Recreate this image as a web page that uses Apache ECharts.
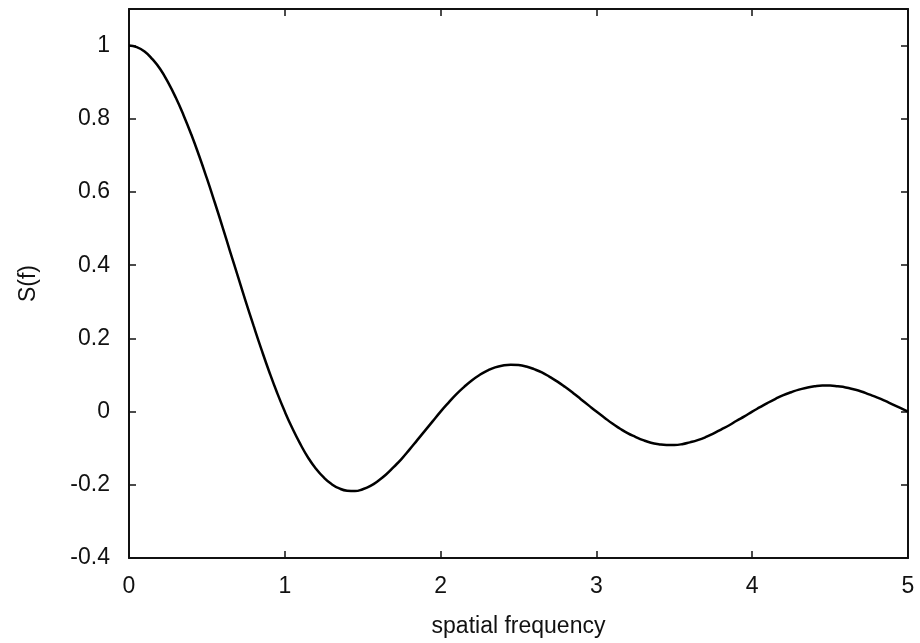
<!DOCTYPE html>
<html lang="en">

<head>
    <meta charset="UTF-8">
    <script src="https://cdn.jsdelivr.net/npm/echarts@6/dist/echarts.min.js"></script>
    <title>S(f)</title>
</head>

<body style="margin:0;background:#fff;">
    <div id="main" style="height: 643px;width: 920px;"></div>

    <script>
        // values, step 0.05
        var freq = [];
        for (var k = 0; k <= 100; k++) freq.push(+(k * 0.05).toFixed(2));
        var sValues = [
            1.0, 0.996, 0.984, 0.963, 0.936, 0.900, 0.858, 0.810, 0.757, 0.699,
            0.637, 0.572, 0.505, 0.436, 0.368, 0.300, 0.234, 0.170, 0.109, 0.052,
            0.0, -0.047, -0.089, -0.126, -0.156, -0.180, -0.198, -0.210, -0.216, -0.217,
            -0.212, -0.203, -0.189, -0.172, -0.151, -0.129, -0.104, -0.078, -0.052, -0.026,
            0.0, 0.024, 0.047, 0.067, 0.085, 0.100, 0.112, 0.121, 0.126, 0.128,
            0.127, 0.123, 0.116, 0.107, 0.095, 0.082, 0.067, 0.051, 0.034, 0.017,
            0.0, -0.016, -0.032, -0.046, -0.059, -0.069, -0.078, -0.085, -0.089, -0.091,
            -0.091, -0.089, -0.084, -0.078, -0.070, -0.060, -0.049, -0.038, -0.025, -0.013,
            0.0, 0.012, 0.024, 0.035, 0.045, 0.053, 0.060, 0.065, 0.069, 0.071,
            0.071, 0.069, 0.066, 0.061, 0.055, 0.047, 0.039, 0.030, 0.020, 0.010, 0.0];

        var font = 'Liberation Sans';
        var chart = echarts.init(document.getElementById('main'));

        var points = freq.map(function (f, i) { return [f, sValues[i]]; });

        var tickStyle = { show: true, inside: true, length: 7, lineStyle: { color: '#111', width: 1.5 } };
        var lineStyle = { onZero: false, lineStyle: { color: '#111', width: 2 } };

        var option = {
            backgroundColor: '#fff',
            animation: false,
            grid: { left: 129, right: 12, top: 9, bottom: 83 },
            xAxis: [
                {
                    type: 'value', min: 0, max: 5, interval: 1,
                    position: 'bottom',
                    name: 'spatial frequency', nameLocation: 'middle', nameGap: 57,
                    nameTextStyle: { fontFamily: font, fontSize: 23, color: '#111' },
                    axisLine: lineStyle,
                    axisTick: tickStyle,
                    axisLabel: { fontFamily: font, fontSize: 23, color: '#111', margin: 17 },
                    splitLine: { show: false }
                },
                {
                    type: 'value', min: 0, max: 5, interval: 1,
                    position: 'top',
                    axisLine: lineStyle,
                    axisTick: tickStyle,
                    axisLabel: { show: false },
                    splitLine: { show: false }
                }
            ],
            yAxis: [
                {
                    type: 'value', min: -0.4, max: 1.1, interval: 0.2,
                    position: 'left',
                    name: 'S(f)', nameLocation: 'middle', nameGap: 89,
                    nameTextStyle: { fontFamily: font, fontSize: 23, color: '#111' },
                    axisLine: lineStyle,
                    axisTick: tickStyle,
                    axisLabel: { fontFamily: font, fontSize: 23, color: '#111', margin: 19, showMaxLabel: false },
                    splitLine: { show: false }
                },
                {
                    type: 'value', min: -0.4, max: 1.1, interval: 0.2,
                    position: 'right',
                    axisLine: lineStyle,
                    axisTick: tickStyle,
                    axisLabel: { show: false },
                    splitLine: { show: false }
                }
            ],
            series: [
                {
                    type: 'line',
                    data: points,
                    smooth: true,
                    showSymbol: false,
                    lineStyle: { color: '#000', width: 2.5 }
                }
            ]
        };
        chart.setOption(option);
    </script>
</body>

</html>
